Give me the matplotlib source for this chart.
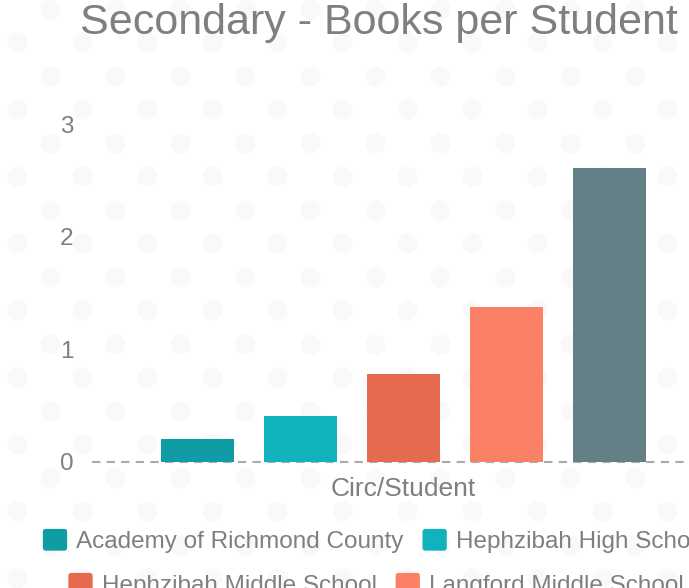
import numpy as np
import matplotlib
matplotlib.use("Agg")
import matplotlib.pyplot as plt
from matplotlib.patches import FancyBboxPatch
from matplotlib.legend_handler import HandlerPatch

# Data
categories = ["Circ/Student"]
schools = ["Academy of Richmond County", "Hephzibah High School",
           "Hephzibah Middle School", "Langford Middle School",
           "Tubman Middle School"]
circ_per_student = [0.20, 0.405, 0.78, 1.375, 2.61]
y_ticks = [0, 1, 2, 3]

colors = ["#0f9ca4", "#10b3bc", "#e66a4e", "#fa8166", "#628086"]
gray = "#7f7f7f"

plt.rcParams["font.family"] = ["Liberation Sans", "DejaVu Sans"]

W, H = 689, 588
fig = plt.figure(figsize=(W / 100, H / 100), dpi=100)

# dotted background pattern (pixel coords)
bg = fig.add_axes([0, 0, 1, 1], zorder=-10)
bg.set_xlim(0, W)
bg.set_ylim(H, 0)
bg.axis("off")
for j, yy in enumerate(np.arange(8.5, H + 20, 33.5)):
    off = 32.5 if j % 2 == 0 else 0.0
    xs = np.arange(17 + off - 65, W + 30, 65)
    bg.scatter(xs, np.full_like(xs, yy), s=205, color="#f9f9f9", lw=0)

# plot area runs past the right edge, like the cropped original
ax = fig.add_axes([92 / W, 1 - 461.7 / H, 623 / W, 337.5 / H])
ax.patch.set_alpha(0)

slot = 103 / 623
bar_w = 73 / 623
n = len(schools)
for i, (name, val) in enumerate(zip(schools, circ_per_student)):
    ax.bar((i - (n - 1) / 2) * slot, val, width=bar_w, color=colors[i],
           label=name, zorder=3)

ax.axhline(0, color="#aaaaaa", lw=1.5, linestyle=(0, (4, 3)), zorder=2,
           clip_on=False)

ax.set_xlim(-0.5, 0.5)
ax.set_ylim(0, 3)
ax.set_xticks([0])
ax.set_xticklabels(categories)
ax.set_yticks(y_ticks)
ax.tick_params(axis="both", length=0, labelsize=17.5, labelcolor=gray)
ax.tick_params(axis="y", pad=13.5)
ax.tick_params(axis="x", pad=11, labelsize=19)
for s in ax.spines.values():
    s.set_visible(False)

fig.text(379 / W, 1 - 34 / H, "Secondary - Books per Student",
         ha="center", va="baseline", fontsize=31, color=gray)


# Legend: rows centered separately, rounded swatches
def rounded_square(legend, orig_handle, xdescent, ydescent, width, height, fontsize):
    return FancyBboxPatch((-xdescent, -ydescent), width, height,
                          boxstyle="round,pad=0,rounding_size=2")


containers, labels = ax.get_legend_handles_labels()
handles = [c.patches[0] for c in containers]
rows = [(0, 2), (2, 4), (4, 5)]
for r, (a, b) in enumerate(rows):
    fig.legend(handles[a:b], labels[a:b], ncol=b - a, loc="center",
               bbox_to_anchor=(376 / W, 1 - (541 + 44 * r) / H),
               frameon=False, fontsize=17.5, labelcolor=gray,
               handlelength=1.0, handleheight=1.0, handletextpad=0.37,
               columnspacing=0.78, borderpad=0, borderaxespad=0,
               handler_map={h: HandlerPatch(patch_func=rounded_square)
                            for h in handles[a:b]})

fig.savefig("out.png", dpi=100)
